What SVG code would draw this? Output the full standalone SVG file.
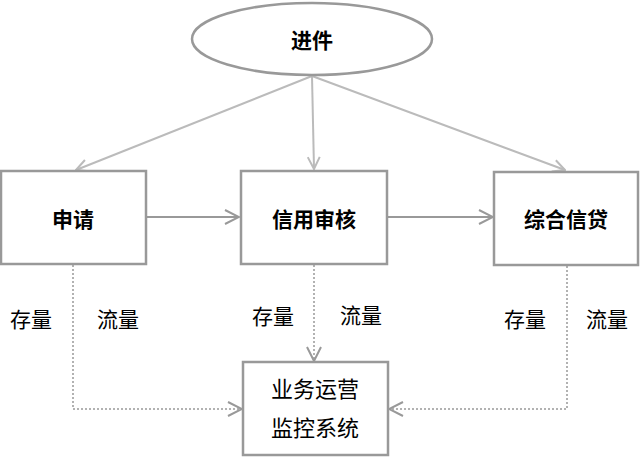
<svg xmlns="http://www.w3.org/2000/svg" width="640" height="457" viewBox="0 0 640 457">
<style>
.box{fill:#fff;stroke:#999;stroke-width:2.5}
.t{font-family:"Noto Sans CJK SC","Liberation Sans",sans-serif;fill:#000;text-anchor:middle;dominant-baseline:central}
.b{font-weight:bold;font-size:21px}
.n{font-size:21px}
.light{fill:none;stroke:#bbb;stroke-width:2}
.mid{fill:none;stroke:#999;stroke-width:2}
.dot{fill:none;stroke:#999;stroke-width:1.5;stroke-dasharray:2 2}
</style>
<defs>
<marker id="al" viewBox="0 0 14 14" refX="13" refY="7" markerWidth="14" markerHeight="14" markerUnits="userSpaceOnUse" orient="auto">
<polyline points="1,1 13,7 1,13" fill="none" stroke="#bbb" stroke-width="2"/>
</marker>
<marker id="am" viewBox="0 0 16 16" refX="15" refY="8" markerWidth="16" markerHeight="16" markerUnits="userSpaceOnUse" orient="auto">
<polyline points="1,1 15,8 1,15" fill="none" stroke="#999" stroke-width="2"/>
</marker>
</defs>
<g id="connectors">
<line class="light" x1="312" y1="76" x2="76" y2="170" marker-end="url(#al)"/>
<line class="light" x1="312" y1="76" x2="314" y2="169" marker-end="url(#al)"/>
<line class="light" x1="312" y1="76" x2="565" y2="170" marker-end="url(#al)"/>
<line class="mid" x1="146" y1="217" x2="239" y2="217" marker-end="url(#am)"/>
<line class="mid" x1="387" y1="217" x2="493" y2="217" marker-end="url(#am)"/>
<polyline class="dot" points="73,265 73,409 242,409" marker-end="url(#am)"/>
<polyline class="dot" points="314,265 314,361" marker-end="url(#am)"/>
<polyline class="dot" points="567,266 567,409 389,409" marker-end="url(#am)"/>
</g>
<g id="node-jinjian">
<ellipse cx="312" cy="39" rx="120" ry="36" fill="#fff" stroke="#999" stroke-width="2.5"/>
<text class="t b" x="312" y="39">进件</text>
</g>
<g id="node-shenqing">
<rect class="box" x="1" y="171" width="145" height="93"/>
<text class="t b" x="73" y="218">申请</text>
</g>
<g id="node-xinyong">
<rect class="box" x="241" y="171" width="146" height="93"/>
<text class="t b" x="314" y="218">信用审核</text>
</g>
<g id="node-zonghe">
<rect class="box" x="494" y="172" width="144" height="93"/>
<text class="t b" x="566" y="218">综合信贷</text>
</g>
<g id="node-yewu">
<rect class="box" x="243" y="362" width="145" height="93"/>
<text class="t n" x="315" y="387" style="font-size:22px">业务运营</text>
<text class="t n" x="315" y="426" style="font-size:22px">监控系统</text>
</g>
<g id="labels">
<text class="t n" x="31" y="318">存量</text>
<text class="t n" x="118" y="318">流量</text>
<text class="t n" x="273" y="315">存量</text>
<text class="t n" x="361" y="314">流量</text>
<text class="t n" x="525" y="318">存量</text>
<text class="t n" x="607" y="318">流量</text>
</g>
</svg>
